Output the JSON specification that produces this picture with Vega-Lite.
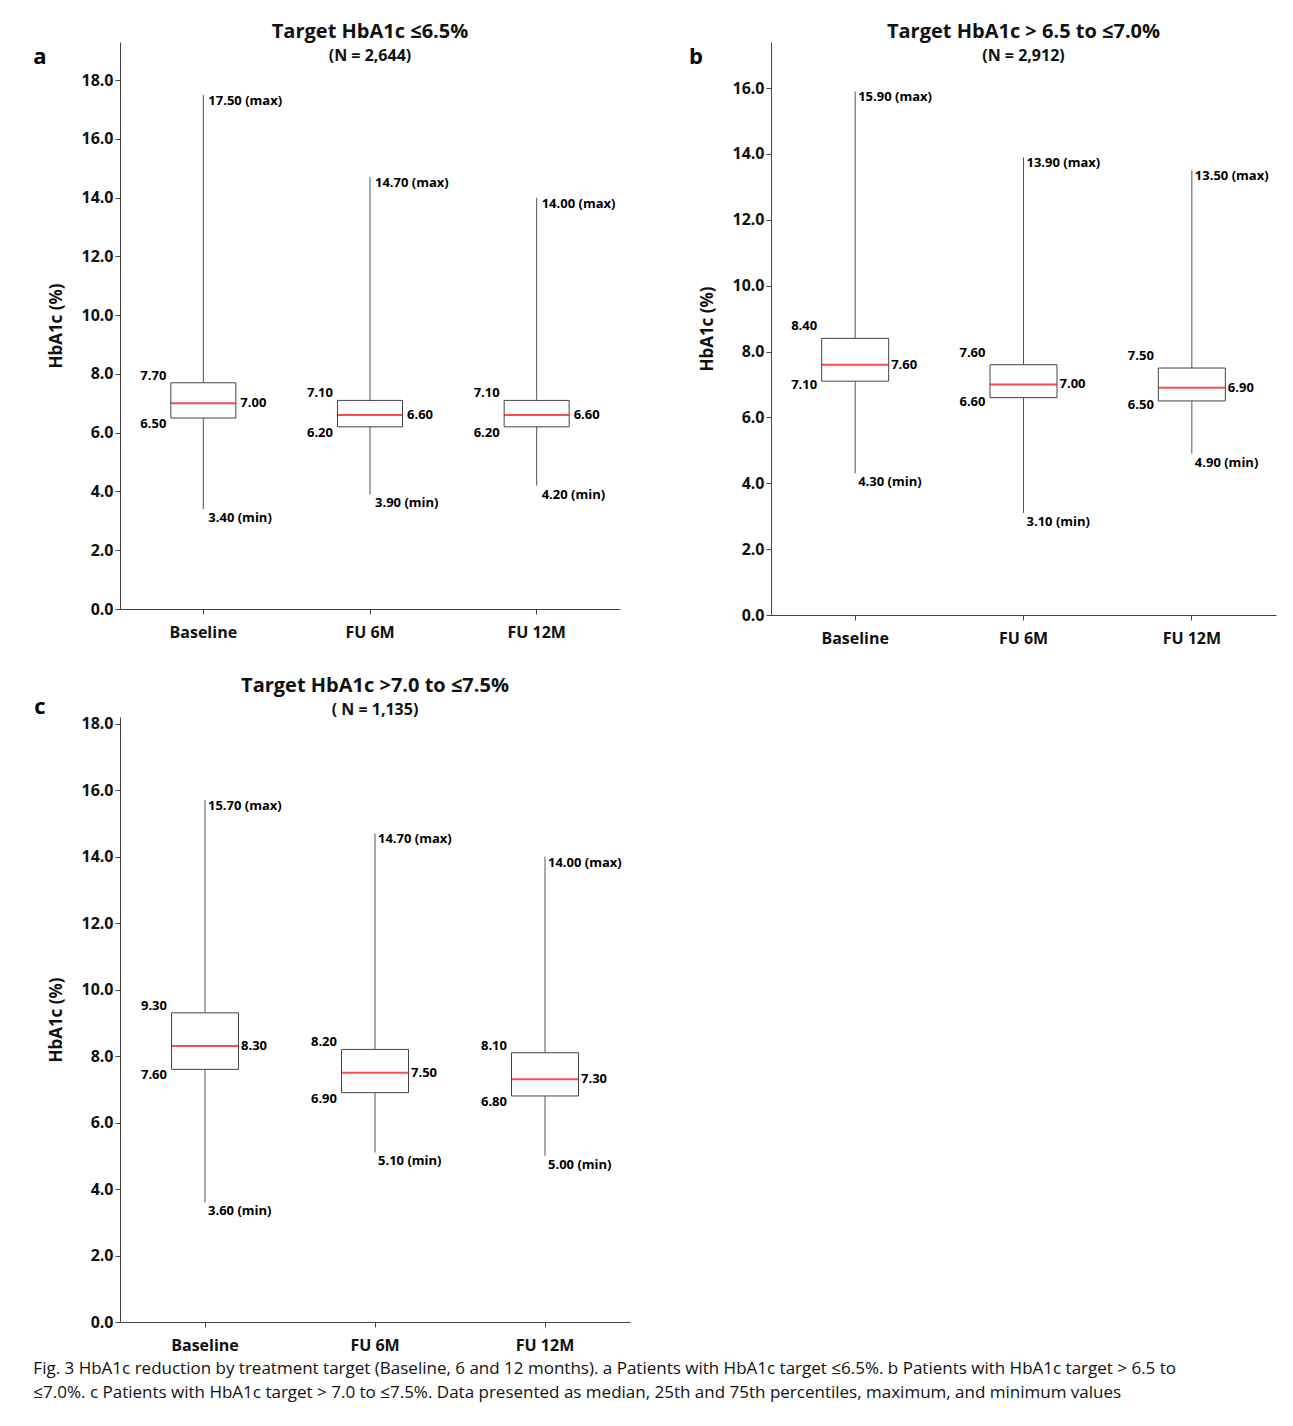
{
"$schema":"https://vega.github.io/schema/vega-lite/v6.json",
"background":"white",
"padding":{"left":33,"top":22,"right":10,"bottom":5},
"config":{"font":"Open Sans","view":{"stroke":null},
 "axis":{"grid":false,"domainColor":"#444","tickColor":"#444","labelFontWeight":"bold","labelFontSize":16,"labelColor":"#111","titleFontSize":17,"titleFontWeight":"bold","titleColor":"#111"},
 "title":{"fontSize":20,"fontWeight":"bold","subtitleFontSize":16,"subtitleFontWeight":"bold","subtitlePadding":6,"color":"#111","subtitleColor":"#111","offset":-22}},
"title":{"text":["Fig. 3  HbA1c reduction by treatment target (Baseline, 6 and 12 months). a Patients with HbA1c target ≤6.5%. b Patients with HbA1c target > 6.5 to","≤7.0%. c Patients with HbA1c target > 7.0 to ≤7.5%.  Data presented as median, 25th and 75th percentiles, maximum, and minimum values"],"orient":"bottom","anchor":"start","fontSize":17,"fontWeight":"normal","offset":8,"lineHeight":24},
"datasets":{
 "a":[{"g":"Baseline","min":3.4,"q1":6.5,"med":7.0,"q3":7.7,"max":17.5},{"g":"FU 6M","min":3.9,"q1":6.2,"med":6.6,"q3":7.1,"max":14.7},{"g":"FU 12M","min":4.2,"q1":6.2,"med":6.6,"q3":7.1,"max":14.0}],
 "b":[{"g":"Baseline","min":4.3,"q1":7.1,"med":7.6,"q3":8.4,"max":15.9},{"g":"FU 6M","min":3.1,"q1":6.6,"med":7.0,"q3":7.6,"max":13.9},{"g":"FU 12M","min":4.9,"q1":6.5,"med":6.9,"q3":7.5,"max":13.5}],
 "c":[{"g":"Baseline","min":3.6,"q1":7.6,"med":8.3,"q3":9.3,"max":15.7},{"g":"FU 6M","min":5.1,"q1":6.9,"med":7.5,"q3":8.2,"max":14.7},{"g":"FU 12M","min":5.0,"q1":6.8,"med":7.3,"q3":8.1,"max":14.0}]},
"vconcat":[
{"hconcat":[
 {"width":500,"height":567,"title":{"text":"Target HbA1c ≤6.5%","subtitle":"(N = 2,644)"},"data":{"name":"a"},
  "transform":[{"calculate":"format(datum.max,'.2f')+' (max)'","as":"maxl"},{"calculate":"format(datum.min,'.2f')+' (min)'","as":"minl"}],
  "encoding":{"x":{"field":"g","type":"nominal","sort":null,"axis":{"title":null,"labelAngle":0,"labelPadding":10}}},
  "layer":[
   {"mark":{"type":"rule","color":"#555"},"encoding":{"y":{"field":"min","type":"quantitative","scale":{"domain":[0,19.3],"nice":false},"axis":{"values":[0,2,4,6,8,10,12,14,16,18],"format":".1f","title":"HbA1c (%)","titlePadding":15}},"y2":{"field":"max"}}},
   {"mark":{"type":"bar","fill":"white","stroke":"#444","size":65},"encoding":{"y":{"field":"q1","type":"quantitative"},"y2":{"field":"q3"}}},
   {"mark":{"type":"tick","color":"red","size":65,"thickness":2},"encoding":{"y":{"field":"med","type":"quantitative"}}},
   {"mark":{"type":"text","align":"left","baseline":"top","dx":5,"fontSize":13,"fontWeight":"bold"},"encoding":{"y":{"field":"max","type":"quantitative"},"text":{"field":"maxl"}}},
   {"mark":{"type":"text","align":"left","baseline":"top","dx":5,"dy":3,"fontSize":13,"fontWeight":"bold"},"encoding":{"y":{"field":"min","type":"quantitative"},"text":{"field":"minl"}}},
   {"mark":{"type":"text","align":"right","baseline":"bottom","dx":-37,"fontSize":13,"fontWeight":"bold"},"encoding":{"y":{"field":"q3","type":"quantitative"},"text":{"field":"q3","format":".2f"}}},
   {"mark":{"type":"text","align":"right","baseline":"top","dx":-37,"fontSize":13,"fontWeight":"bold"},"encoding":{"y":{"field":"q1","type":"quantitative"},"text":{"field":"q1","format":".2f"}}},
   {"mark":{"type":"text","align":"left","baseline":"middle","dx":37,"fontSize":13,"fontWeight":"bold"},"encoding":{"y":{"field":"med","type":"quantitative"},"text":{"field":"med","format":".2f"}}},
   {"data":{"values":[{"t":"a"}]},"mark":{"type":"text","fontSize":22,"fontWeight":"bold"},"encoding":{"x":{"value":-80},"y":{"value":15},"text":{"field":"t"}}}
  ]},
 {"width":505,"height":573,"title":{"text":"Target HbA1c > 6.5 to ≤7.0%","subtitle":"(N = 2,912)"},"data":{"name":"b"},
  "transform":[{"calculate":"format(datum.max,'.2f')+' (max)'","as":"maxl"},{"calculate":"format(datum.min,'.2f')+' (min)'","as":"minl"}],
  "encoding":{"x":{"field":"g","type":"nominal","sort":null,"axis":{"title":null,"labelAngle":0,"labelPadding":10}}},
  "layer":[
   {"mark":{"type":"rule","color":"#555"},"encoding":{"y":{"field":"min","type":"quantitative","scale":{"domain":[0,17.4],"nice":false},"axis":{"values":[0,2,4,6,8,10,12,14,16],"format":".1f","title":"HbA1c (%)","titlePadding":15}},"y2":{"field":"max"}}},
   {"mark":{"type":"bar","fill":"white","stroke":"#444","size":67},"encoding":{"y":{"field":"q1","type":"quantitative"},"y2":{"field":"q3"}}},
   {"mark":{"type":"tick","color":"red","size":67,"thickness":2},"encoding":{"y":{"field":"med","type":"quantitative"}}},
   {"mark":{"type":"text","align":"left","baseline":"top","dx":3,"fontSize":13,"fontWeight":"bold"},"encoding":{"y":{"field":"max","type":"quantitative"},"text":{"field":"maxl"}}},
   {"mark":{"type":"text","align":"left","baseline":"top","dx":3,"dy":3,"fontSize":13,"fontWeight":"bold"},"encoding":{"y":{"field":"min","type":"quantitative"},"text":{"field":"minl"}}},
   {"mark":{"type":"text","align":"right","baseline":"bottom","dx":-38,"dy":-5,"fontSize":13,"fontWeight":"bold"},"encoding":{"y":{"field":"q3","type":"quantitative"},"text":{"field":"q3","format":".2f"}}},
   {"mark":{"type":"text","align":"right","baseline":"top","dx":-38,"dy":-2,"fontSize":13,"fontWeight":"bold"},"encoding":{"y":{"field":"q1","type":"quantitative"},"text":{"field":"q1","format":".2f"}}},
   {"mark":{"type":"text","align":"left","baseline":"middle","dx":36,"fontSize":13,"fontWeight":"bold"},"encoding":{"y":{"field":"med","type":"quantitative"},"text":{"field":"med","format":".2f"}}},
   {"data":{"values":[{"t":"b"}]},"mark":{"type":"text","fontSize":22,"fontWeight":"bold"},"encoding":{"x":{"value":-75},"y":{"value":15},"text":{"field":"t"}}}
  ]}
 ],"spacing":69},
 {"width":510,"height":605,"title":{"text":"Target HbA1c >7.0 to ≤7.5%","subtitle":"( N = 1,135)"},"data":{"name":"c"},
  "transform":[{"calculate":"format(datum.max,'.2f')+' (max)'","as":"maxl"},{"calculate":"format(datum.min,'.2f')+' (min)'","as":"minl"}],
  "encoding":{"x":{"field":"g","type":"nominal","sort":null,"axis":{"title":null,"labelAngle":0,"labelPadding":10}}},
  "layer":[
   {"mark":{"type":"rule","color":"#555"},"encoding":{"y":{"field":"min","type":"quantitative","scale":{"domain":[0,18.2],"nice":false},"axis":{"values":[0,2,4,6,8,10,12,14,16,18],"format":".1f","title":"HbA1c (%)","titlePadding":15}},"y2":{"field":"max"}}},
   {"mark":{"type":"bar","fill":"white","stroke":"#444","size":67},"encoding":{"y":{"field":"q1","type":"quantitative"},"y2":{"field":"q3"}}},
   {"mark":{"type":"tick","color":"red","size":67,"thickness":2},"encoding":{"y":{"field":"med","type":"quantitative"}}},
   {"mark":{"type":"text","align":"left","baseline":"top","dx":3,"fontSize":13,"fontWeight":"bold"},"encoding":{"y":{"field":"max","type":"quantitative"},"text":{"field":"maxl"}}},
   {"mark":{"type":"text","align":"left","baseline":"top","dx":3,"dy":3,"fontSize":13,"fontWeight":"bold"},"encoding":{"y":{"field":"min","type":"quantitative"},"text":{"field":"minl"}}},
   {"mark":{"type":"text","align":"right","baseline":"bottom","dx":-38,"fontSize":13,"fontWeight":"bold"},"encoding":{"y":{"field":"q3","type":"quantitative"},"text":{"field":"q3","format":".2f"}}},
   {"mark":{"type":"text","align":"right","baseline":"top","dx":-38,"fontSize":13,"fontWeight":"bold"},"encoding":{"y":{"field":"q1","type":"quantitative"},"text":{"field":"q1","format":".2f"}}},
   {"mark":{"type":"text","align":"left","baseline":"middle","dx":36,"fontSize":13,"fontWeight":"bold"},"encoding":{"y":{"field":"med","type":"quantitative"},"text":{"field":"med","format":".2f"}}},
   {"data":{"values":[{"t":"c"}]},"mark":{"type":"text","fontSize":22,"fontWeight":"bold"},"encoding":{"x":{"value":-80},"y":{"value":-10},"text":{"field":"t"}}}
  ]}
],"spacing":30}
